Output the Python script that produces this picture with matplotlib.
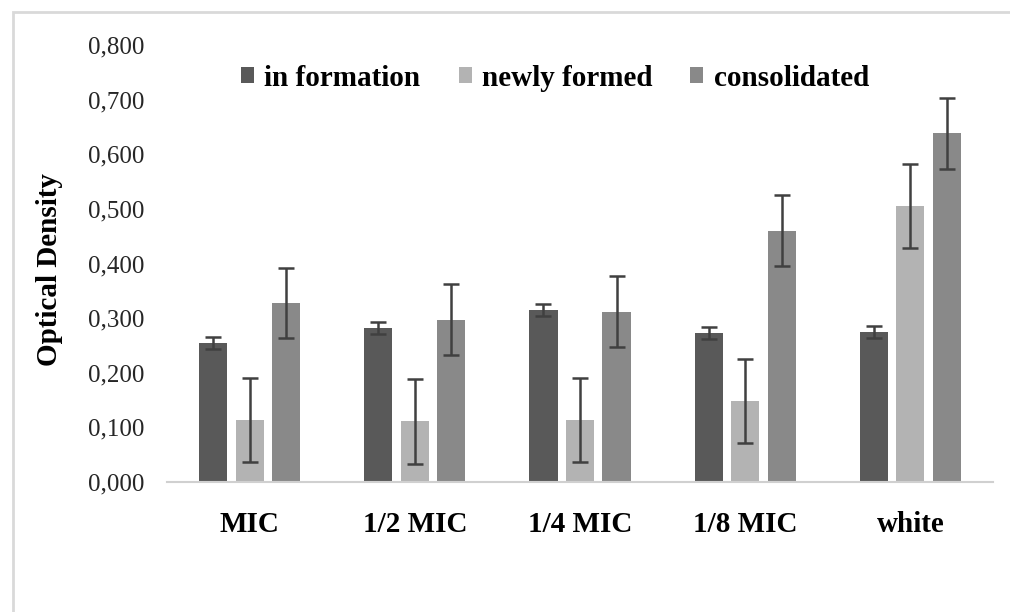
import matplotlib
matplotlib.use("Agg")
import matplotlib.pyplot as plt
import numpy as np
from matplotlib.patches import Patch, Rectangle

categories = ["MIC", "1/2 MIC", "1/4 MIC", "1/8 MIC", "white"]
series_names = ["in formation", "newly formed", "consolidated"]
in_formation = [0.255, 0.282, 0.314, 0.272, 0.275]
newly_formed = [0.114, 0.111, 0.114, 0.148, 0.505]
consolidated = [0.327, 0.297, 0.312, 0.460, 0.638]
err_in_formation = [0.011, 0.011, 0.011, 0.011, 0.011]
err_newly_formed = [0.077, 0.078, 0.077, 0.077, 0.077]
err_consolidated = [0.064, 0.065, 0.065, 0.065, 0.065]
y_ticks = [0.0, 0.1, 0.2, 0.3, 0.4, 0.5, 0.6, 0.7, 0.8]

colors = ["#595959", "#b3b3b3", "#898989"]
values = [in_formation, newly_formed, consolidated]
errors = [err_in_formation, err_newly_formed, err_consolidated]

plt.rcParams['font.family'] = ['Liberation Serif', 'DejaVu Serif']

fig = plt.figure(figsize=(10.10, 6.12), dpi=100)
ax = fig.add_axes([167/1010, 1-482/612, (993-167)/1010, (482-45)/612])

x = np.arange(len(categories))
width = 0.17
spacing = 0.221
for i, (vals, errs, col) in enumerate(zip(values, errors, colors)):
    ax.bar(x + (i-1)*spacing, vals, width=width, color=col, zorder=2)
    ax.errorbar(x + (i-1)*spacing, vals, yerr=errs, fmt='none', ecolor='#404040',
                elinewidth=1.8, capsize=5.5, capthick=1.8, zorder=3)

ax.set_xlim(-0.5, len(categories)-0.5)
ax.set_ylim(0, 0.8)
ax.set_yticks(y_ticks)
ax.set_yticklabels([f"{v:.3f}".replace('.', ',') for v in y_ticks], fontsize=18, color='#262626')
ax.set_xticks(x)
ax.set_xticklabels(categories, fontsize=21, fontweight='bold')
ax.tick_params(axis='y', length=0, pad=16)
ax.tick_params(axis='x', length=0, pad=21)
for s in ['top', 'right', 'left']:
    ax.spines[s].set_visible(False)
ax.spines['bottom'].set_color('#d0d0d0')
ax.spines['bottom'].set_linewidth(1.5)

fig.text(50/1010, 1-270/612, "Optical Density", rotation=90, fontsize=21,
         fontweight='bold', ha='center', va='center')

handles = [Patch(facecolor=c, edgecolor='none') for c in colors]
fig.legend(handles, series_names, loc='center', bbox_to_anchor=(555/1010, 1-78/612),
           ncol=3, frameon=False, prop={'family': 'Liberation Serif', 'weight': 'bold', 'size': 21},
           handlelength=0.45, handleheight=0.45, handletextpad=0.35, columnspacing=1.3)

fig.patches.append(Rectangle((13/1010, -0.1), 1.2, 1-12/612+0.1, transform=fig.transFigure,
                             fill=False, edgecolor='#d9d9d9', linewidth=2, clip_on=False))

fig.savefig("out.png", dpi=100)
